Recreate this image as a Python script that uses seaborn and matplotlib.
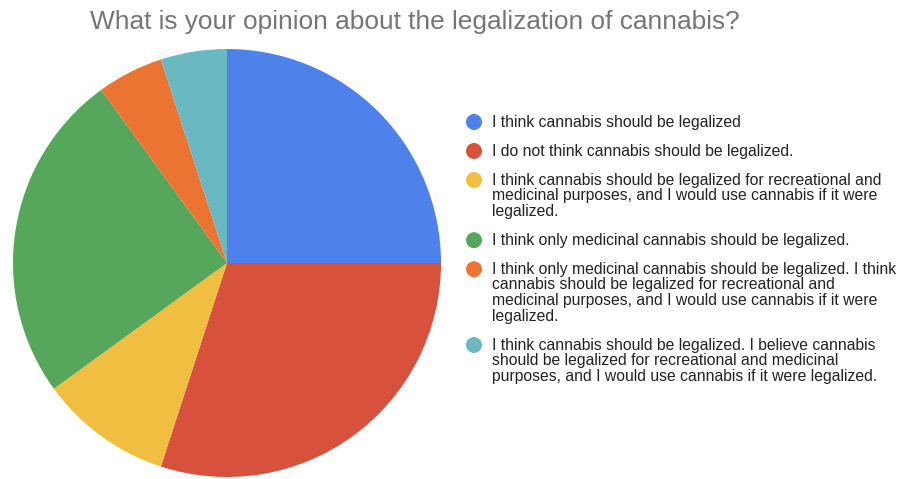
import matplotlib
matplotlib.use("Agg")
import matplotlib.pyplot as plt
import seaborn as sns

# Survey responses (counts)
labels = [
    "I think cannabis should be legalized",
    "I do not think cannabis should be legalized.",
    "I think cannabis should be legalized for recreational and\nmedicinal purposes, and I would use cannabis if it were\nlegalized.",
    "I think only medicinal cannabis should be legalized.",
    "I think only medicinal cannabis should be legalized. I think\ncannabis should be legalized for recreational and\nmedicinal purposes, and I would use cannabis if it were\nlegalized.",
    "I think cannabis should be legalized. I believe cannabis\nshould be legalized for recreational and medicinal\npurposes, and I would use cannabis if it were legalized.",
]
counts = [5, 6, 2, 5, 1, 1]
colors = ["#4F81EA", "#D8513D", "#F0BE40", "#56A65B", "#EC7432", "#6AB8C2"]
title = "What is your opinion about the legalization of cannabis?"

sns.set_theme(style="white")
plt.rcParams["font.family"] = ["Liberation Sans", "DejaVu Sans"]

W, H = 898, 479
fig = plt.figure(figsize=(W / 100, H / 100), dpi=100)
fig.patch.set_facecolor("white")

# Pie: center (227, 263) px, radius 214 px
cx, cy, r = 227, 263, 214
ax = fig.add_axes([(cx - r) / W, (H - cy - r) / H, 2 * r / W, 2 * r / H])
ax.pie(counts, colors=sns.color_palette(colors), startangle=90,
       counterclock=False, radius=1.0,
       wedgeprops=dict(linewidth=0, antialiased=True))
ax.set_xlim(-1, 1)
ax.set_ylim(-1, 1)
ax.set_aspect("equal")
ax.axis("off")

fig.text(415 / W, 1 - 28.5 / H, title, ha="center", va="baseline",
         fontsize=18.9, color="#757575")

# Legend drawn on a pixel-based overlay, one text per wrapped line
lax = fig.add_axes([0, 0, 1, 1])
lax.set_xlim(0, W)
lax.set_ylim(H, 0)
lax.axis("off")
y = 122
line_h = 15.6
gap = 29
for lab, col in zip(labels, colors):
    lines = lab.split("\n")
    lax.scatter([474], [y], s=132, color=col, edgecolors="none", zorder=3)
    for k, line in enumerate(lines):
        lax.text(492, y + 4.6 + k * line_h, line, ha="left", va="baseline",
                 fontsize=11.3, color="#222222")
    y += (len(lines) - 1) * line_h + gap

fig.savefig("out.png", dpi=100, facecolor="white")
